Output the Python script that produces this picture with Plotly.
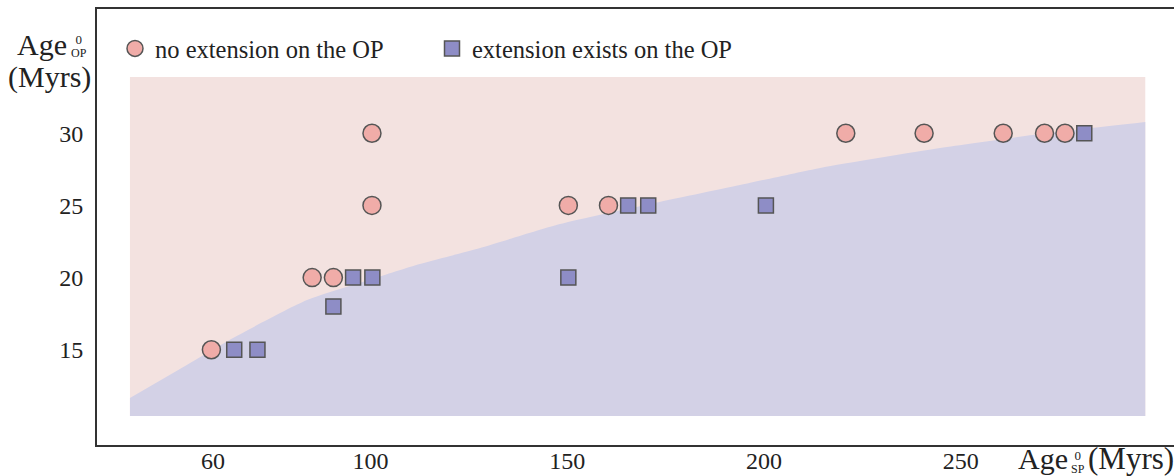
import plotly.graph_objects as go

# Subducting-plate age (x) vs overriding-plate age (y), Myrs
no_ext_x = [59.6, 85.2, 90.6, 100.4, 100.4, 150.3, 160.5, 220.8, 240.7, 260.8, 271.3, 276.5]
no_ext_y = [15, 20, 20, 30, 25, 25, 25, 30, 30, 30, 30, 30]

ext_x = [65.4, 71.3, 90.6, 95.6, 100.5, 150.3, 165.5, 170.6, 200.5, 281.4]
ext_y = [15, 15, 18, 20, 20, 20, 25, 25, 25, 30]

# Regime boundary separating the two domains
boundary_x = [38.9, 51.6, 65.1, 83.9, 100.4, 112.6, 127.9, 148.2, 171.1, 193.9, 214.3, 244.8, 270.2, 296.9]
boundary_y = [11.65, 13.66, 15.81, 18.44, 19.9, 20.94, 22.05, 23.71, 25.1, 26.41, 27.6, 28.98, 29.95, 30.78]

# Extent of the shaded domain
domain_x = [38.9, 296.9]
domain_y = [10.41, 33.9]

x_ticks = [60, 100, 150, 200, 250]
y_ticks = [15, 20, 25, 30]

SERIF = "Liberation Serif, Times New Roman, serif"
PINK_BG = "#f3e2e0"
PURPLE_BG = "#d3d1e6"
PINK = "#f0aca8"
PURPLE = "#8e8dc6"
EDGE = "#555555"
TEXT = "#222222"

fig = go.Figure()

# upper domain (no extension)
fig.add_trace(go.Scatter(
    x=[domain_x[0], domain_x[1], domain_x[1], domain_x[0], domain_x[0]],
    y=[domain_y[0], domain_y[0], domain_y[1], domain_y[1], domain_y[0]],
    fill="toself", fillcolor=PINK_BG, mode="none",
    hoverinfo="skip", showlegend=False,
))

# lower domain (extension): filled from the domain floor up to the regime curve
fig.add_trace(go.Scatter(
    x=domain_x, y=[domain_y[0], domain_y[0]], mode="lines",
    line=dict(width=0, color=PURPLE_BG),
    hoverinfo="skip", showlegend=False,
))
fig.add_trace(go.Scatter(
    x=boundary_x, y=boundary_y, mode="lines",
    fill="tonexty", fillcolor=PURPLE_BG,
    line=dict(width=0, color=PURPLE_BG, shape="spline", smoothing=0.6),
    hoverinfo="skip", showlegend=False,
))

fig.add_trace(go.Scatter(
    x=no_ext_x, y=no_ext_y, mode="markers",
    name="no extension on the OP",
    marker=dict(symbol="circle", size=18, color=PINK,
                line=dict(color=EDGE, width=1.5)),
))

fig.add_trace(go.Scatter(
    x=ext_x, y=ext_y, mode="markers",
    name="extension exists on the OP",
    marker=dict(symbol="square", size=15, color=PURPLE,
                line=dict(color=EDGE, width=1.5)),
))

W, H = 1174, 476
L, R, T, B = 97, 0, 9, 31
PW, PH = W - L - R, H - T - B


def px(xp):
    return (xp - L) / PW


def py(yp):
    return (H - B - yp) / PH


def stacked(sup, sub, sup_size, sub_size):
    # superscript stacked over subscript, as one text block
    return (f"<span style='font-size:{sup_size}px'>{sup}</span><br>"
            f"<span style='font-size:{sub_size}px'>{sub}</span>")


annots = [
    dict(text="Age", x=px(42), y=py(45), size=30),
    dict(text=stacked("0", "OP", 13, 12), x=px(79), y=py(46.5), size=10),
    dict(text="(Myrs)", x=px(49), y=py(77), size=30),
    dict(text="Age", x=px(1043), y=py(459), size=30),
    dict(text=stacked("0", "SP", 13, 12), x=px(1078), y=py(462), size=10),
    dict(text="(Myrs)", x=px(1131), y=py(459), size=31),
]
for a in annots:
    fig.add_annotation(
        text=a["text"], x=a["x"], y=a["y"], xref="paper", yref="paper",
        xanchor="center", yanchor="middle", showarrow=False, borderpad=0,
        font=dict(family=SERIF, size=a["size"], color=TEXT),
    )

fig.update_layout(
    width=W, height=H,
    margin=dict(l=L, r=R, t=T, b=B, pad=0),
    paper_bgcolor="white", plot_bgcolor="white",
    font=dict(family=SERIF, color=TEXT),
    legend=dict(
        orientation="h", x=px(115), y=py(26), xanchor="left", yanchor="top",
        traceorder="normal",
        font=dict(family=SERIF, size=24.5, color=TEXT),
        entrywidth=272, entrywidthmode="pixels",
        bgcolor="rgba(0,0,0,0)", borderwidth=0,
    ),
    xaxis=dict(
        range=[30.53, 304.2], tickvals=x_ticks, ticktext=[str(v) for v in x_ticks],
        showgrid=False, zeroline=False, showline=True, mirror=True,
        linecolor="#333333", linewidth=2, ticks="", ticklabelstandoff=-7,
        tickfont=dict(family=SERIF, size=24, color=TEXT), automargin=False,
    ),
    yaxis=dict(
        range=[8.40, 38.61], tickvals=y_ticks, ticktext=[str(v) for v in y_ticks],
        showgrid=False, zeroline=False, showline=True, mirror=False,
        linecolor="#333333", linewidth=2, ticks="", ticklabelstandoff=7,
        tickfont=dict(family=SERIF, size=24, color=TEXT), automargin=False,
    ),
)

fig.write_html("out.html")
